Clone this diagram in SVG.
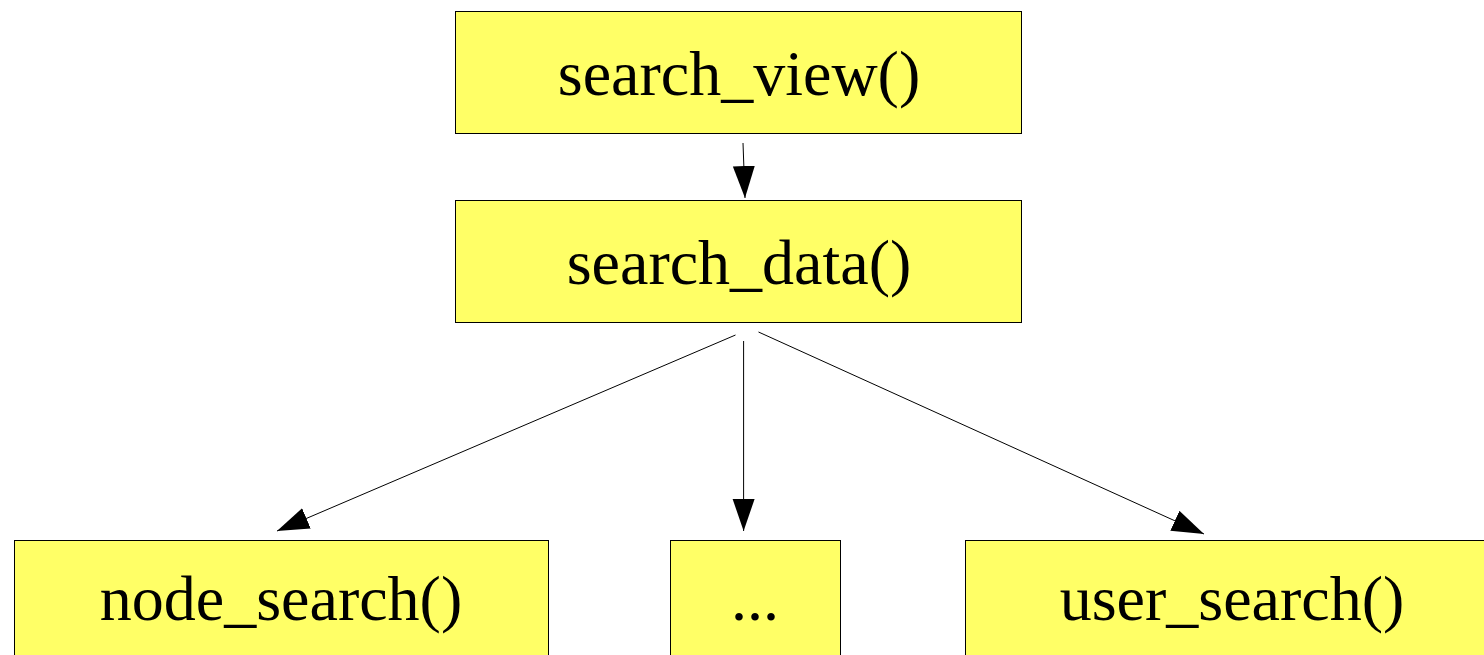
<svg xmlns="http://www.w3.org/2000/svg" width="1484" height="655" viewBox="0 0 1484 655">
<style>
.box{fill:#ffff66;stroke:#000;stroke-width:1}
.lbl{font-family:"Liberation Serif","Times New Roman",serif;font-size:64px;fill:#000;text-anchor:middle}
.edge{stroke:#000;stroke-width:1;fill:none}
</style>
<defs>
<marker id="ah" markerUnits="userSpaceOnUse" markerWidth="34" markerHeight="24" refX="32" refY="11" orient="auto" viewBox="0 0 34 24">
<path d="M0,0 L32,11 L0,22 Z" fill="#000"/>
</marker>
</defs>
<rect width="1484" height="655" fill="#fff"/>
<g id="edges">
<line class="edge" x1="743" y1="143" x2="745" y2="198" marker-end="url(#ah)"/>
<line class="edge" x1="735.5" y1="335" x2="277" y2="531" marker-end="url(#ah)"/>
<line class="edge" x1="743.6" y1="341" x2="743.6" y2="531" marker-end="url(#ah)"/>
<line class="edge" x1="758.5" y1="332" x2="1204" y2="534" marker-end="url(#ah)"/>
</g>
<g id="search_view">
<rect class="box" x="455.5" y="11.5" width="566" height="122"/>
<text class="lbl" x="739" y="95">search_view()</text>
</g>
<g id="search_data">
<rect class="box" x="455.5" y="200.5" width="566" height="122"/>
<text class="lbl" x="739" y="284">search_data()</text>
</g>
<g id="node_search">
<rect class="box" x="14.5" y="540.5" width="534" height="122"/>
<text class="lbl" x="281" y="620">node_search()</text>
</g>
<g id="ellipsis">
<rect class="box" x="670.5" y="540.5" width="170" height="122"/>
<text class="lbl" x="755" y="620">...</text>
</g>
<g id="user_search">
<rect class="box" x="965.5" y="540.5" width="534" height="122"/>
<text class="lbl" x="1232" y="620">user_search()</text>
</g>
</svg>
